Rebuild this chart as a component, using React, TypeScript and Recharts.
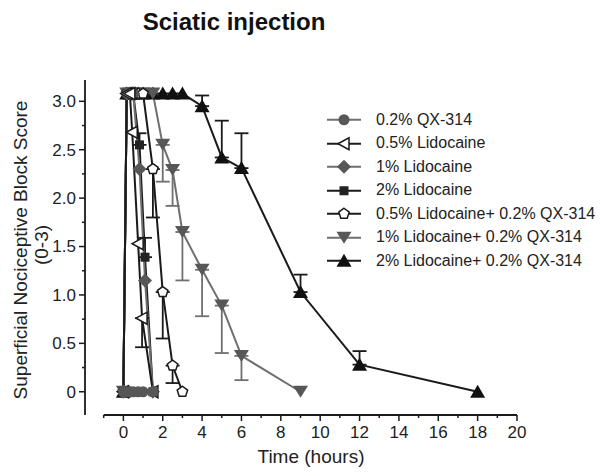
import { LineChart, Line, XAxis, YAxis, ErrorBar, Legend, ReferenceLine } from "recharts";

// time (hours) and block score (0-3)
const qxTime = [0, 0.17, 0.33, 0.5, 0.75, 1, 1.5];
const qxScore = [0, 0, 0, 0, 0, 0, 0];

const lido05Time = [0, 0.17, 0.33, 0.45, 0.75, 0.95, 1.5];
const lido05Score = [0, 3.08, 3.08, 2.68, 1.53, 0.76, 0];
const lido05Err = [null, null, null, null, null, [0.3, 0], null];

const lido1Time = [0, 0.17, 0.33, 0.5, 0.82, 1.1, 1.5];
const lido1Score = [0, 3.08, 3.08, 3.08, 2.3, 1.15, 0];

const lido2Time = [0, 0.17, 0.33, 0.5, 0.82, 1.1, 1.5];
const lido2Score = [0, 3.08, 3.08, 3.08, 2.55, 1.39, 0];
const lido2Err = [null, null, null, null, [0, 0.12], [0, 0.2], null];

const mixA_Time = [0, 0.17, 0.33, 0.5, 0.75, 1, 1.5, 2, 2.5, 3];
const mixA_Score = [0, 3.08, 3.08, 3.08, 3.08, 3.08, 2.3, 1.03, 0.27, 0];
const mixA_Err = [null, null, null, null, null, null, [0.5, 0], [0.48, 0], [0.18, 0], null];

const mixB_Time = [0, 0.17, 0.33, 0.5, 0.75, 1, 1.5, 2, 2.5, 3, 4, 5, 6, 9];
const mixB_Score = [0, 3.08, 3.08, 3.08, 3.08, 3.08, 3.08, 2.55, 2.29, 1.65, 1.26, 0.89, 0.37, 0];
const mixB_Err = [null, null, null, null, null, null, null, [0.38, 0], [0.37, 0], [0.5, 0], [0.48, 0], [0.49, 0], [0.25, 0], null];

const mixC_Time = [0, 0.17, 0.33, 0.5, 0.75, 1, 1.5, 2, 2.5, 3, 4, 5, 6, 9, 12, 18];
const mixC_Score = [0, 3.08, 3.08, 3.08, 3.08, 3.08, 3.08, 3.08, 3.08, 3.08, 2.95, 2.42, 2.31, 1.03, 0.28, 0];
const mixC_Err = [null, null, null, null, null, null, null, null, null, null, [0, 0.11], [0, 0.38], [0, 0.36], [0, 0.18], [0, 0.14], null];

const xTicks = [-1, 0, 1, 2, 3, 4, 5, 6, 7, 8, 9, 10, 11, 12, 13, 14, 15, 16, 17, 18, 19, 20];
const yTicks = [0, 0.25, 0.5, 0.75, 1, 1.25, 1.5, 1.75, 2, 2.25, 2.5, 2.75, 3];

const FONT = '"Liberation Sans", Arial, sans-serif';
const BLACK = "#1a1a1a";
const GRAY = "#6f6f6f";
const GRAY_MK = "#575757";

const rows = (t: number[], s: number[], e?: any[]) =>
  t.map((v, i) => ({ t: v, score: s[i], err: e ? e[i] : null }));

const series = [
  { name: "0.2% QX-314", kind: "circle", line: GRAY, mark: GRAY_MK, data: rows(qxTime, qxScore) },
  { name: "0.5% Lidocaine", kind: "triLeft", line: BLACK, mark: BLACK, data: rows(lido05Time, lido05Score, lido05Err) },
  { name: "1% Lidocaine", kind: "diamond", line: GRAY, mark: GRAY_MK, data: rows(lido1Time, lido1Score) },
  { name: "2% Lidocaine", kind: "square", line: BLACK, mark: "#222", data: rows(lido2Time, lido2Score, lido2Err) },
  { name: "0.5% Lidocaine+ 0.2% QX-314", kind: "pentagon", line: BLACK, mark: BLACK, data: rows(mixA_Time, mixA_Score, mixA_Err) },
  { name: "1% Lidocaine+ 0.2% QX-314", kind: "triDown", line: GRAY, mark: GRAY_MK, data: rows(mixB_Time, mixB_Score, mixB_Err) },
  { name: "2% Lidocaine+ 0.2% QX-314", kind: "triUp", line: BLACK, mark: "#111", data: rows(mixC_Time, mixC_Score, mixC_Err) },
];

function Marker({ kind, cx, cy, color }: any) {
  if (cx == null || cy == null) return null;
  switch (kind) {
    case "circle":
      return <circle cx={cx} cy={cy} r={5.5} fill={color} />;
    case "triLeft":
      return <polygon points={`${cx - 6},${cy} ${cx + 5},${cy - 6} ${cx + 5},${cy + 6}`} fill="#fff" stroke={color} strokeWidth={1.5} />;
    case "diamond":
      return <polygon points={`${cx},${cy - 7} ${cx + 7},${cy} ${cx},${cy + 7} ${cx - 7},${cy}`} fill={color} />;
    case "square":
      return <rect x={cx - 4.5} y={cy - 4.5} width={9} height={9} fill={color} />;
    case "pentagon": {
      const pts = [0, 1, 2, 3, 4]
        .map((k) => {
          const a = -Math.PI / 2 + (k * 2 * Math.PI) / 5;
          return `${cx + 5.5 * Math.cos(a)},${cy + 5.5 * Math.sin(a)}`;
        })
        .join(" ");
      return <polygon points={pts} fill="#fff" stroke={color} strokeWidth={1.5} />;
    }
    case "triDown":
      return <polygon points={`${cx - 7.5},${cy - 6} ${cx + 7.5},${cy - 6} ${cx},${cy + 6}`} fill={color} />;
    case "triUp":
      return <polygon points={`${cx - 7.5},${cy + 6} ${cx + 7.5},${cy + 6} ${cx},${cy - 7}`} fill={color} />;
  }
  return null;
}

function XTick(props: any) {
  const { x, y, payload } = props;
  const major = payload.value % 2 === 0;
  return (
    <g>
      <line x1={x} y1={y} x2={x} y2={y + (major ? 6 : 3)} stroke={BLACK} strokeWidth={1.5} />
      {major && (
        <text x={x} y={y + 23} textAnchor="middle" fontSize={17} fontFamily={FONT} fill="#222">
          {payload.value}
        </text>
      )}
    </g>
  );
}

function YTick(props: any) {
  const { x, y, payload } = props;
  const v = payload.value;
  const major = Math.abs(v * 2 - Math.round(v * 2)) < 1e-6;
  return (
    <g>
      <line x1={x} y1={y} x2={x - (major ? 6 : 3)} y2={y} stroke={BLACK} strokeWidth={1.5} />
      {major && (
        <text x={x - 9} y={y} dy="0.35em" textAnchor="end" fontSize={17} fontFamily={FONT} fill="#222">
          {v === 0 ? "0" : v.toFixed(1)}
        </text>
      )}
    </g>
  );
}

function LegendBox() {
  return (
    <div style={{ fontFamily: FONT, fontSize: 16, color: "#222" }}>
      {series.map((s) => (
        <div key={s.name} style={{ display: "flex", alignItems: "center", height: 23.5 }}>
          <svg width={40} height={23.5} style={{ marginRight: 14 }}>
            <line x1={5} y1={11.75} x2={39} y2={11.75} stroke={s.line} strokeWidth={2} />
            <Marker kind={s.kind} cx={22} cy={11.75} color={s.mark} />
          </svg>
          <span style={{ whiteSpace: "nowrap" }}>{s.name}</span>
        </div>
      ))}
    </div>
  );
}

// draw the long-lasting combinations first so the short ones sit on top
const drawOrder = [6, 5, 4, 3, 2, 1, 0];

export default function App() {
  return (
    <div style={{ position: "absolute", left: 0, top: 0, width: 600, height: 476, background: "#fff" }}>
      <div
        style={{
          position: "absolute",
          left: 0,
          top: 8,
          width: 468,
          textAlign: "center",
          fontFamily: FONT,
          fontWeight: "bold",
          fontSize: 24,
          color: "#111",
        }}
      >
        Sciatic injection
      </div>
      <LineChart width={600} height={476} margin={{ top: 80, right: 83, left: 25, bottom: 16 }}>
        <XAxis
          type="number"
          dataKey="t"
          domain={[-1.95, 20]}
          ticks={xTicks}
          interval={0}
          allowDataOverflow
          axisLine={false}
          tickLine={false}
          tickSize={0}
          tickMargin={0}
          height={45}
          tick={XTick}
          label={{
            content: () => (
              <text x={311} y={463} textAnchor="middle" fontSize={19} fontFamily={FONT} fill="#222">
                Time (hours)
              </text>
            ),
          }}
        />
        <YAxis
          type="number"
          domain={[-0.24, 3.22]}
          ticks={yTicks}
          interval={0}
          allowDataOverflow
          width={60}
          axisLine={{ stroke: BLACK, strokeWidth: 1.8 }}
          tickLine={false}
          tickSize={0}
          tickMargin={0}
          tick={YTick}
          label={{
            content: () => (
              <g fontSize={19} fontFamily={FONT} fill="#222">
                <text x={20} y={250} transform="rotate(-90 20 250)" textAnchor="middle" dominantBaseline="central">
                  Superficial Nociceptive Block Score
                </text>
                <text x={41} y={245} transform="rotate(-90 41 245)" textAnchor="middle" dominantBaseline="central">
                  (0-3)
                </text>
              </g>
            ),
          }}
        />
        <ReferenceLine
          segment={[
            { x: -1, y: -0.24 },
            { x: 20, y: -0.24 },
          ]}
          stroke={BLACK}
          strokeWidth={1.8}
        />
        {drawOrder.map((i) => {
          const s = series[i];
          return (
            <Line
              key={s.name}
              name={s.name}
              data={s.data}
              dataKey="score"
              type="linear"
              stroke={s.line}
              strokeWidth={2}
              isAnimationActive={false}
              activeDot={false}
              dot={(p: any) => <Marker key={`${s.name}-${p.index}`} kind={s.kind} cx={p.cx} cy={p.cy} color={s.mark} />}
            >
              <ErrorBar dataKey="err" direction="y" width={7} strokeWidth={1.8} stroke={s.line} isAnimationActive={false} />
            </Line>
          );
        })}
        <Legend
          layout="vertical"
          align="center"
          verticalAlign="middle"
          content={() => <LegendBox />}
          wrapperStyle={{ left: 322, top: 108, width: 278 }}
        />
      </LineChart>
    </div>
  );
}
